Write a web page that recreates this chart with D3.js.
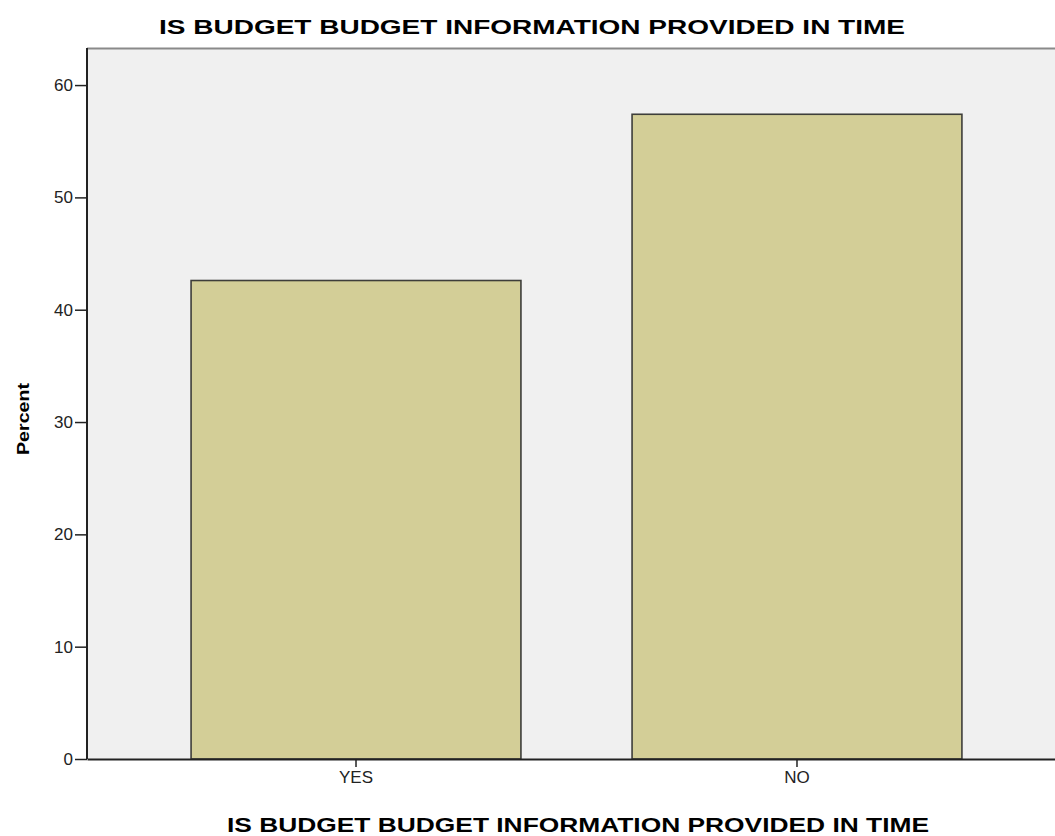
<!DOCTYPE html>
<html>
<head>
<meta charset="utf-8">
<script src="https://cdn.jsdelivr.net/npm/d3@7"></script>
<style>
  body { margin: 0; background: #fff; }
  svg { display: block; font-family: Arial, "Liberation Sans", sans-serif; }
</style>
</head>
<body>
<div class="chart"></div>
<script>
// data
const categories = ["YES", "NO"];
const percents = [42.6, 57.4];
const yTicks = [0, 10, 20, 30, 40, 50, 60];
const titleText = "IS BUDGET BUDGET INFORMATION PROVIDED IN TIME";

const svg_width = 1055;
const svg_height = 836;
const margin = { top: 48, left: 87, bottom: 77 };
const plotRight = 1066; // plot runs past the window edge
const chart_height = svg_height - margin.top - margin.bottom;

const svg = d3.select(".chart").append("svg")
  .attr("width", svg_width)
  .attr("height", svg_height);

const xScale = d3.scaleBand()
  .domain(categories)
  .range([margin.left, plotRight])
  .paddingInner(0.252)
  .paddingOuter(0.236);

const yScale = d3.scaleLinear()
  .domain([0, 63.3])
  .range([margin.top + chart_height, margin.top]);

// plot background
svg.append("rect")
  .attr("x", margin.left).attr("y", margin.top)
  .attr("width", plotRight - margin.left).attr("height", chart_height)
  .attr("fill", "#f0f0f0");

// top border
svg.append("line")
  .attr("x1", margin.left).attr("x2", plotRight)
  .attr("y1", margin.top + 0.5).attr("y2", margin.top + 0.5)
  .attr("stroke", "#8a8a8a").attr("stroke-width", 2);

// bars
svg.append("g").selectAll("rect")
  .data(categories)
  .join("rect")
  .attr("x", d => xScale(d))
  .attr("y", (d, i) => yScale(percents[i]))
  .attr("width", xScale.bandwidth())
  .attr("height", (d, i) => yScale(0) - yScale(percents[i]))
  .attr("fill", "#d3ce97")
  .attr("stroke", "#3e3e3a")
  .attr("stroke-width", 1.6);

// axes
const yAxis = d3.axisLeft(yScale).tickValues(yTicks).tickSize(12).tickSizeOuter(0).tickPadding(2);
const yAxisDraw = svg.append("g")
  .attr("transform", `translate(${margin.left},0)`)
  .call(yAxis);

const xAxis = d3.axisBottom(xScale).tickSize(8).tickSizeOuter(0).tickPadding(4);
const xAxisDraw = svg.append("g")
  .attr("transform", `translate(0,${yScale(0)})`)
  .call(xAxis);

[yAxisDraw, xAxisDraw].forEach(g => {
  g.select(".domain").attr("stroke", "#222").attr("stroke-width", 2);
  g.selectAll(".tick line").attr("stroke", "#222").attr("stroke-width", 1.5);
  g.selectAll(".tick text")
    .attr("fill", "#222")
    .style("font-size", "17px")
    .style("font-family", "Arial, 'Liberation Sans', sans-serif");
});
yAxisDraw.select(".domain").attr("d", `M0,${margin.top}V${yScale(0)}`);

// title
svg.append("text")
  .attr("x", 159).attr("y", 34)
  .attr("textLength", 746).attr("lengthAdjust", "spacingAndGlyphs")
  .style("font-size", "21px").style("font-weight", "bold")
  .text(titleText);

// x label
svg.append("text")
  .attr("x", 227).attr("y", 832)
  .attr("textLength", 702).attr("lengthAdjust", "spacingAndGlyphs")
  .style("font-size", "20px").style("font-weight", "bold")
  .text(titleText);

// y label
svg.append("text")
  .attr("transform", "translate(29,419) rotate(-90)")
  .attr("text-anchor", "middle")
  .attr("textLength", 72).attr("lengthAdjust", "spacingAndGlyphs")
  .style("font-size", "17px").style("font-weight", "bold")
  .text("Percent");
</script>
</body>
</html>
